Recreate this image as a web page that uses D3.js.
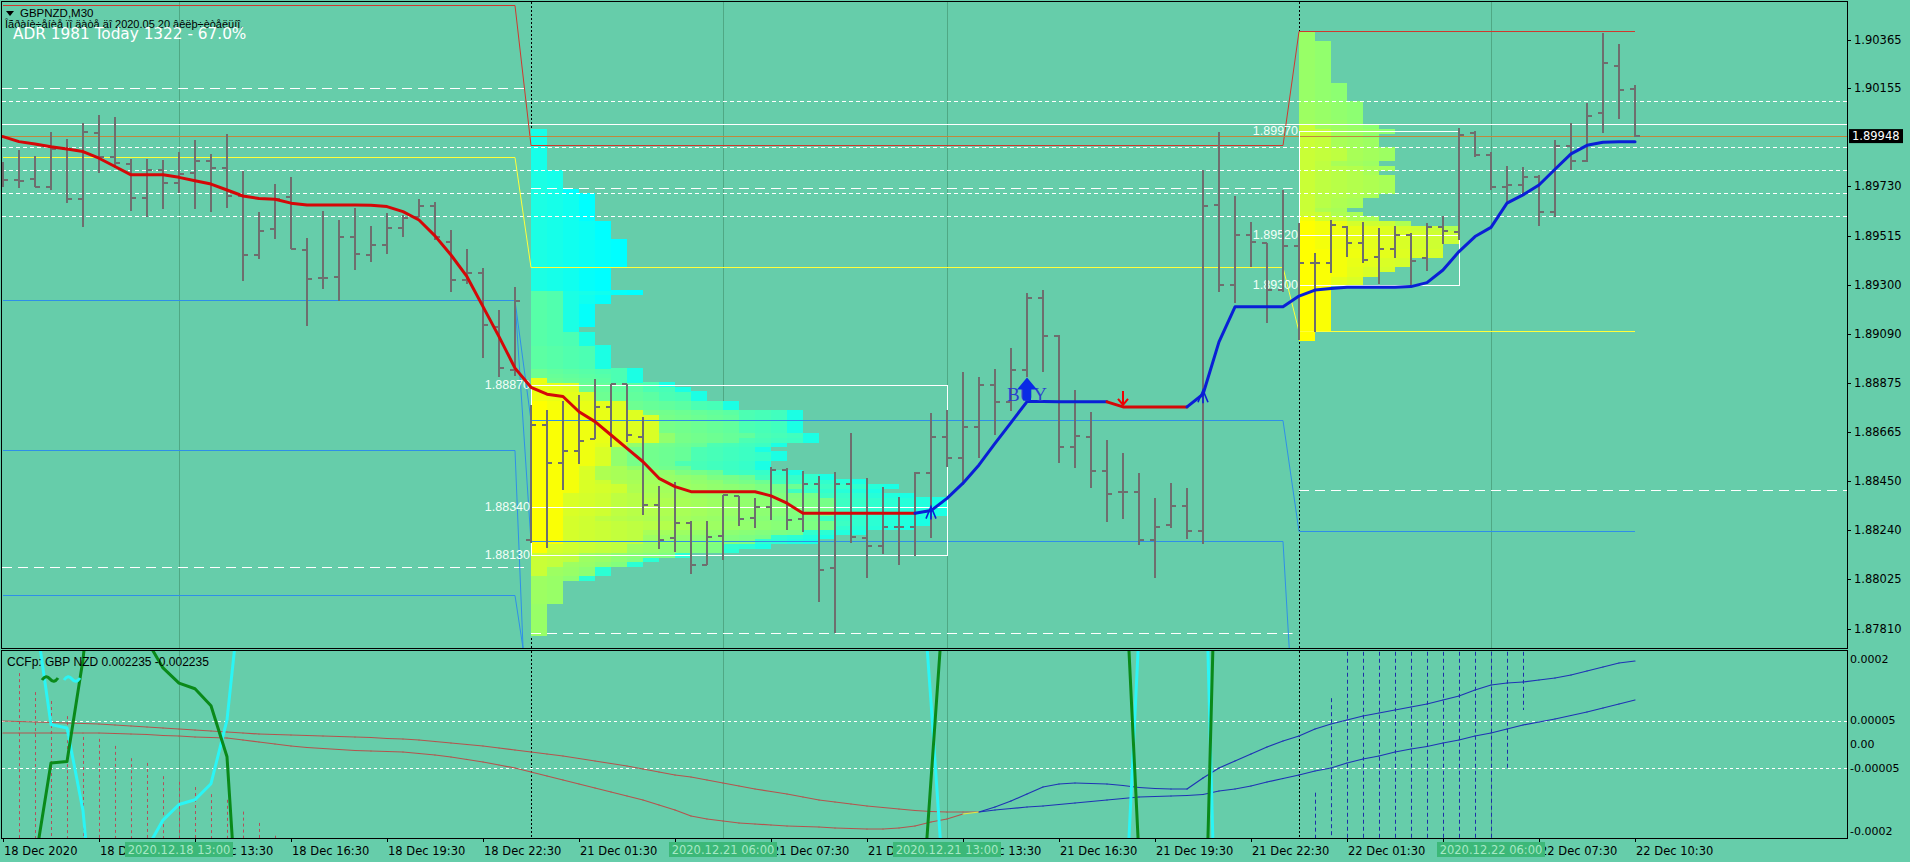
<!DOCTYPE html>
<html><head><meta charset="utf-8"><title>GBPNZD,M30</title>
<script src="https://cdn.jsdelivr.net/npm/d3@7/dist/d3.min.js"></script>
<style>html,body{margin:0;padding:0;background:#66cdaa;overflow:hidden}svg{display:block}</style>
</head><body>
<svg id="chart" width="1910" height="862"></svg>
<script>
// ---------------- DATA ----------------
const symbolTitle = "GBPNZD,M30";
const noteText = "Îãðàíè÷åíèå ïî äàòå äî 2020.05.20 âêëþ÷èòåëüíî.";
const adrText = "ADR 1981  Today 1322 - 67.0%";
const ccfText = "CCFp:  GBP NZD 0.002235 -0.002235";

// M30 bars, bar 0 = 18 Dec 07:30 ... bar 102 = 22 Dec 10:30
const open = [1.89787,1.89758,1.89764,1.89726,1.89891,1.89674,1.89960,1.89856,1.89827,1.89678,
1.89801,1.89746,1.89790,1.89840,1.89810,1.89688,1.89430,1.89545,1.89683,1.89454,
1.89331,1.89338,1.89508,1.89432,1.89476,1.89548,1.89599,1.89645,1.89490,1.89324,
1.89353,1.89121,1.88933,1.88196,1.88695,1.88528,1.88583,1.88632,1.88774,1.88873,
1.88641,1.88348,1.88203,1.88268,1.88087,1.88213,1.88387,1.88290,1.88340,1.88499,
1.88285,1.88439,1.88073,1.88439,1.88203,1.88170,1.88251,1.88251,1.88488,1.88644,
1.88553,1.88687,1.88868,1.88792,1.88933,1.89244,1.89080,1.88600,1.88643,1.88496,
1.88405,1.88405,1.88195,1.88260,1.88342,1.88235,1.89649,1.89301,1.89518,1.89482,
1.89280,1.89469,1.89396,1.89396,1.89555,1.89486,1.89422,1.89457,1.89519,1.89418,
1.89555,1.89534,1.89963,1.89866,1.89729,1.89736,1.89772,1.89618,1.89906,1.89842,
1.90050,1.90254,1.90151];
const high = [1.89837,1.89888,1.89862,1.89965,1.89934,1.90004,1.90040,1.90030,1.89848,1.89848,
1.89845,1.89879,1.89931,1.89871,1.89958,1.89797,1.89618,1.89739,1.89769,1.89505,
1.89622,1.89584,1.89635,1.89558,1.89616,1.89606,1.89674,1.89661,1.89541,1.89457,
1.89375,1.89194,1.89292,1.88781,1.88760,1.88799,1.88825,1.88893,1.88873,1.88873,
1.88728,1.88430,1.88449,1.88278,1.88276,1.88391,1.88387,1.88376,1.88511,1.88507,
1.88496,1.88473,1.88492,1.88658,1.88463,1.88427,1.88384,1.88492,1.88745,1.88760,
1.88926,1.88902,1.88936,1.89027,1.89269,1.89278,1.89084,1.88846,1.88749,1.88629,
1.88571,1.88484,1.88376,1.88444,1.88419,1.89800,1.89967,1.89688,1.89576,1.89482,
1.89715,1.89570,1.89440,1.89584,1.89558,1.89577,1.89551,1.89560,1.89526,1.89573,
1.89602,1.89982,1.89968,1.89881,1.89819,1.89816,1.89780,1.89932,1.90004,1.90091,
1.90394,1.90348,1.90170];
const low = [1.89726,1.89722,1.89726,1.89714,1.89657,1.89555,1.89790,1.89809,1.89625,1.89599,
1.89631,1.89700,1.89631,1.89620,1.89638,1.89321,1.89414,1.89500,1.89458,1.89126,
1.89283,1.89231,1.89367,1.89403,1.89438,1.89508,1.89596,1.89498,1.89273,1.89307,
1.88984,1.88904,1.88907,1.88181,1.88159,1.88413,1.88525,1.88632,1.88601,1.88621,
1.88304,1.88155,1.88145,1.88048,1.88087,1.88109,1.88256,1.88246,1.88282,1.88239,
1.88232,1.87928,1.87793,1.88181,1.88029,1.88135,1.88087,1.88126,1.88203,1.88514,
1.88434,1.88550,1.88651,1.88757,1.88904,1.88926,1.88530,1.88506,1.88423,1.88274,
1.88285,1.88173,1.88029,1.88246,1.88198,1.88180,1.89273,1.89225,1.89381,1.89138,
1.89273,1.89064,1.89100,1.89353,1.89422,1.89396,1.89307,1.89421,1.89302,1.89364,
1.89479,1.89495,1.89859,1.89712,1.89657,1.89693,1.89558,1.89599,1.89801,1.89837,
1.89963,1.90021,1.89943];
const close = [1.89758,1.89755,1.89729,1.89891,1.89674,1.89966,1.89856,1.89830,1.89678,1.89801,
1.89746,1.89784,1.89840,1.89809,1.89688,1.89430,1.89537,1.89675,1.89458,1.89328,
1.89331,1.89508,1.89437,1.89476,1.89551,1.89594,1.89645,1.89512,1.89324,1.89353,
1.89129,1.88941,1.89234,1.88695,1.88528,1.88583,1.88627,1.88774,1.88873,1.88651,
1.88348,1.88196,1.88268,1.88087,1.88207,1.88391,1.88285,1.88340,1.88499,1.88282,
1.88439,1.88065,1.88439,1.88210,1.88170,1.88251,1.88251,1.88488,1.88644,1.88553,
1.88687,1.88868,1.88792,1.88933,1.89244,1.89081,1.88600,1.88646,1.88496,1.88394,
1.88405,1.88195,1.88253,1.88342,1.88235,1.89644,1.89301,1.89518,1.89489,1.89280,
1.89469,1.89396,1.89396,1.89563,1.89486,1.89411,1.89457,1.89519,1.89404,1.89555,
1.89538,1.89953,1.89866,1.89729,1.89736,1.89772,1.89618,1.89903,1.89842,1.90036,
1.90264,1.90146,1.89948];

// trend moving average (red = down state, blue = up state)
const maLine = [1.89946,1.89924,1.89914,1.89902,1.89892,1.89881,1.89852,1.89816,1.89780,1.89780,
1.89780,1.89769,1.89754,1.89740,1.89714,1.89688,1.89677,1.89674,1.89657,1.89649,
1.89649,1.89649,1.89649,1.89648,1.89642,1.89620,1.89584,1.89515,1.89432,1.89338,
1.89208,1.89078,1.88941,1.88858,1.88828,1.88818,1.88752,1.88709,1.88651,1.88593,
1.88535,1.88463,1.88427,1.88405,1.88405,1.88405,1.88405,1.88405,1.88387,1.88355,
1.88311,1.88311,1.88311,1.88311,1.88311,1.88311,1.88311,1.88311,1.88323,1.88376,
1.88442,1.88521,1.88615,1.88705,1.88796,1.88796,1.88795,1.88795,1.88795,1.88795,
1.88773,1.88773,1.88773,1.88773,1.88773,1.88828,1.89055,1.89207,1.89207,1.89207,
1.89207,1.89254,1.89280,1.89287,1.89292,1.89292,1.89292,1.89292,1.89295,1.89312,
1.89367,1.89447,1.89512,1.89552,1.89657,1.89693,1.89736,1.89804,1.89871,1.89908,
1.89921,1.89924,1.89924];
const buySignals = [58, 75];
const sellSignals = [70];
const buyLabelBar = 64;

const tickBars = [0,6,12,18,24,30,36,42,48,54,60,66,72,78,84,90,96,102];
const tickLabels = ["18 Dec 2020","18 Dec 10:30","18 Dec 13:30","18 Dec 16:30","18 Dec 19:30","18 Dec 22:30",
"21 Dec 01:30","21 Dec 04:30","21 Dec 07:30","21 Dec 10:30","21 Dec 13:30","21 Dec 16:30","21 Dec 19:30","21 Dec 22:30",
"22 Dec 01:30","22 Dec 04:30","22 Dec 07:30","22 Dec 10:30"];
const sessionBars = [11,45,59,93];
const sessionLabels = ["2020.12.18 13:00","2020.12.21 06:00","2020.12.21 13:00","2020.12.22 06:00"];
const dayStarts = [0,33,81];
const dayEnds = [32,80,102];
const barsPerDay = 48;

const priceTicks = [1.90365,1.90155,1.89730,1.89515,1.89300,1.89090,1.88875,1.88665,1.88450,1.88240,1.88025,1.87810];
const lastPrice = 1.89948;
const roundLevelsMinor = [1.90100,1.89900,1.89800,1.89700,1.89600];
const roundLevelMajor = 1.90000;

// daily levels (one value per day: 18 Dec, 21 Dec, 22 Dec)
const levelRed = [1.90517,1.89909,1.90405];
const levelYellow = [1.89859,1.89381,1.89102];
const levelBlue1 = [1.89237,1.88716,1.88236];
const levelBlue2 = [1.89237,1.88191,1.87000];
const levelBlue3 = [1.88584,1.86880,1.86880];
const levelBlue4 = [1.87957,1.87500,1.87500];
const adrHigh = [1.90157,1.89721,null];
const adrLow = [1.88079,1.87793,1.88413];

// market profile (days with a profile) and value areas
const profileDays = [1,2];
const profileStep = 0.0002;
const vaHigh = [1.88870,1.89970];
const vaPoc = [1.88340,1.89520];
const vaLow = [1.88130,1.89300];

// lower window: CCFp
const lowerTicks = [0.0002,0.00005,0,-0.00005,-0.0002];
const lowerTickLabels = ["0.0002","0.00005","0.00","-0.00005","-0.0002"];
const lowerLevels = [0.00005,-0.00005];
const gbp = [-6e-4,-5e-4,-2.5e-4,-3.9e-5,-3.6e-5,1.8e-4,5e-4,6e-4,5e-4,2.2e-4,
1.62e-4,1.3e-4,1.18e-4,8.2e-5,-2.6e-5,-5.5e-4,-6e-4,-6e-4,-6e-4,-6e-4,
-6e-4,-6e-4,-6e-4,-6e-4,-6e-4,-6e-4,-6e-4,-6e-4,-6e-4,-6e-4,
-6e-4,-6e-4,-6e-4,-6e-4,-6e-4,-6e-4,-6e-4,-6e-4,-6e-4,-6e-4,
-6e-4,-6e-4,-6e-4,-6e-4,-6e-4,-6e-4,-6e-4,-6e-4,-6e-4,-6e-4,
-6e-4,-6e-4,-6e-4,-6e-4,-6e-4,-6e-4,-6e-4,-5.6e-4,-7.5e-5,4.1e-4,
6e-4,6e-4,6e-4,6e-4,6e-4,6e-4,6e-4,6e-4,6e-4,6e-4,
4.6e-4,-2.4e-4,-6e-4,-6e-4,-6e-4,-6e-4,7e-4,7e-4,7e-4,7e-4,
7e-4,7e-4,7e-4,7e-4,7e-4,7e-4,7e-4,7e-4,7e-4,7e-4,
7e-4,7e-4,7e-4,7e-4,7e-4,7e-4,7e-4,7e-4,7e-4,7e-4,
7e-4,7e-4,7e-4];
const nzd = [6e-4,5e-4,2.8e-4,4.2e-5,3.5e-5,-1.4e-4,-5e-4,-6e-4,-5e-4,-2.2e-4,
-1.6e-4,-1.27e-4,-1.17e-4,-8.3e-5,5.2e-5,3.7e-4,6e-4,6e-4,6e-4,6e-4,
6e-4,6e-4,6e-4,6e-4,6e-4,6e-4,6e-4,6e-4,6e-4,6e-4,
6e-4,6e-4,6e-4,6e-4,6e-4,6e-4,6e-4,6e-4,6e-4,6e-4,
6e-4,6e-4,6e-4,6e-4,6e-4,6e-4,6e-4,6e-4,6e-4,6e-4,
6e-4,6e-4,6e-4,6e-4,6e-4,6e-4,6e-4,5.6e-4,9e-5,-4.1e-4,
-6e-4,-6e-4,-6e-4,-6e-4,-6e-4,-6e-4,-6e-4,-6e-4,-6e-4,-6e-4,
-4.6e-4,2.4e-4,6e-4,6e-4,6e-4,6e-4,-7e-4,-7e-4,-7e-4,-7e-4,
-7e-4,-7e-4,-7e-4,-7e-4,-7e-4,-7e-4,-7e-4,-7e-4,-7e-4,-7e-4,
-7e-4,-7e-4,-7e-4,-7e-4,-7e-4,-7e-4,-7e-4,-7e-4,-7e-4,-7e-4,
-7e-4,-7e-4,-7e-4];
const ccfUnit = 1e-5;
const ccfFast = [4.97,4.87,4.76,4.66,4.55,4.44,4.34,4.13,3.92,3.70,
3.49,3.28,3.07,2.86,2.65,2.43,2.22,2.12,2.01,1.90,
1.80,1.69,1.59,1.48,1.27,1.16,0.95,0.63,0.32,0,
-0.32,-0.74,-1.16,-1.59,-2.01,-2.43,-2.96,-3.49,-4.02,-4.55,
-5.19,-5.82,-6.46,-6.88,-7.51,-8.15,-8.78,-9.42,-9.95,-10.48,
-11.11,-11.75,-12.17,-12.59,-13.02,-13.33,-13.65,-13.97,-14.18,-14.29,
-14.29,-14.29,-13.23,-11.96,-10.48,-8.99,-8.36,-8.15,-8.25,-8.36,
-8.68,-9.10,-9.31,-9.42,-9.42,-7.09,-4.97,-3.49,-2.01,-0.53,
0.74,1.80,3.28,4.34,5.19,6.03,6.67,7.30,7.94,8.57,
9.42,10.26,11.53,12.59,13.02,13.23,13.65,14.07,14.71,15.56,
16.40,17.25,17.67];
const ccfSlow = [2.43,2.43,2.43,2.43,2.43,2.43,2.43,2.33,2.22,2.12,
1.90,1.80,1.59,1.48,1.38,0.95,0.53,0.11,-0.32,-0.63,
-0.85,-1.06,-1.27,-1.38,-1.48,-1.59,-1.90,-2.22,-2.65,-3.17,
-3.70,-4.34,-4.97,-5.82,-6.67,-7.51,-8.36,-9.21,-10.05,-10.90,
-11.75,-12.80,-13.86,-15.13,-15.77,-16.19,-16.61,-16.83,-17.04,-17.25,
-17.35,-17.46,-17.67,-17.78,-17.88,-17.88,-17.67,-17.25,-16.40,-15.77,
-14.71,-14.29,-13.86,-13.55,-13.23,-13.02,-12.70,-12.38,-12.06,-11.75,
-11.43,-11.11,-11.01,-10.90,-10.79,-10.58,-9.84,-9.42,-8.78,-7.94,
-7.20,-6.46,-5.61,-4.97,-3.92,-3.07,-2.43,-1.59,-0.95,-0.42,
0.32,0.95,1.80,2.43,3.28,4.13,4.76,5.40,6.14,6.88,
7.72,8.57,9.42];
const ccfColorSwitch = 61;
const histRedTop = [null,15.1,11.1,9.2,6.0,1.6,1.2,-0.3,-2.9,-3.9,-6.7,-7.9,-9.0,-10.5,-11.7,-14.2,-16.6,-19.3];
const histRedBottom = -30;
const histBlueBars = [82,83,84,85,86,87,88,89,90,91,92,93,94,95];
const histBlueTop = [-10.2,9.8,30,30,30,30,30,30,30,30,30,30,30,30];
const histBlueBottom = [-30,-30,-30,-30,-30,-30,-30,-30,-30,-30,-30,-30,-5.4,7.3];

// ---------------- DRAWING ----------------
const svg = d3.select("#chart");
svg.append("rect").attr("width",1910).attr("height",862).attr("fill","#66cdaa");
const L=2, R=1847, MT=2, MB=648, LT=651, LB=838;
const x = d3.scaleLinear().domain([0,102]).range([3,1635]);
const cw = x(1)-x(0);
const y = d3.scaleLinear().domain([1.87810,1.90365]).range([628.8,40]);
const yl = d3.scaleLinear().domain([-0.0002,0.0002]).range([839,650]);
const bars = d3.range(open.length);
const AX = "DejaVu Sans", TX = "Liberation Sans";

const defs = svg.append("defs");
defs.append("clipPath").attr("id","clipMain").append("rect").attr("x",L).attr("y",MT).attr("width",R-L).attr("height",MB-MT);
defs.append("clipPath").attr("id","clipLow").append("rect").attr("x",L).attr("y",LT).attr("width",R-L).attr("height",LB-LT);
const gM = svg.append("g").attr("clip-path","url(#clipMain)");
const gL = svg.append("g").attr("clip-path","url(#clipLow)");

// session lines and day separators (both windows)
[[gM,MT,MB],[gL,LT,LB]].forEach(([g,t,b])=>{
  g.selectAll(null).data(sessionBars).join("line")
    .attr("x1",d=>x(d)+0.5).attr("x2",d=>x(d)+0.5).attr("y1",t).attr("y2",b)
    .attr("stroke","#4fa884").attr("stroke-width",1);
  g.selectAll(null).data(dayStarts.slice(1)).join("line")
    .attr("x1",d=>x(d)+0.5).attr("x2",d=>x(d)+0.5).attr("y1",t).attr("y2",b)
    .attr("stroke","#000").attr("stroke-width",1).attr("stroke-dasharray","2,2");
});

// market profile
const ramp = d3.interpolateRgb("#ffff00","#00ffff");
const profMax = {};
const gProf = gM.append("g").attr("shape-rendering","crispEdges");
profileDays.forEach(d=>{
  const s = dayStarts[d], e = dayEnds[d];
  const db = d3.range(s,e+1);
  const lo = d3.min(db,i=>low[i]), hi = d3.max(db,i=>high[i]);
  const k0 = Math.floor(lo/profileStep+1e-9), k1 = Math.ceil(hi/profileStep-1e-9);
  let mx = 0;
  for(let k=k0;k<k1;k++){
    const p0 = k*profileStep, p1 = (k+1)*profileStep;
    const touch = db.filter(i=>low[i]<p1 && high[i]>=p0);
    mx = Math.max(mx,touch.length);
    touch.forEach((i,j)=>{
      gProf.append("rect").attr("x",x(s)+j*cw).attr("y",y(p1))
        .attr("width",cw).attr("height",y(p0)-y(p1)+0.5)
        .attr("fill",ramp((i-s)/(barsPerDay-1)));
    });
  }
  profMax[d] = mx;
});

// round-number levels
gM.selectAll(null).data(roundLevelsMinor).join("line")
  .attr("x1",L).attr("x2",R).attr("y1",d=>Math.round(y(d))+0.5).attr("y2",d=>Math.round(y(d))+0.5)
  .attr("stroke","#fff").attr("stroke-dasharray","4,3");
gM.append("line").attr("x1",L).attr("x2",R).attr("y1",Math.round(y(roundLevelMajor))+0.5).attr("y2",Math.round(y(roundLevelMajor))+0.5).attr("stroke","#fff");

// ADR long-dash lines
[adrHigh,adrLow].forEach(arr=>{
  arr.forEach((v,d)=>{
    if(v==null) return;
    const xs = d===0 ? L : x(dayStarts[d]);
    const xe = d===dayStarts.length-1 ? R : x(dayEnds[d]+0.6);
    gM.append("line").attr("x1",xs).attr("x2",xe).attr("y1",Math.round(y(v))+0.5).attr("y2",Math.round(y(v))+0.5)
      .attr("stroke","#fff").attr("stroke-dasharray","10,6");
  });
});

// daily level lines
const dayOf = i => dayStarts.filter(s=>s<=i).length-1;
function levelPath(vals,color){
  gM.append("path").datum(bars)
    .attr("d",d3.line().x(i=>x(i)).y(i=>Math.round(y(vals[dayOf(i)]))+0.5))
    .attr("fill","none").attr("stroke",color).attr("stroke-width",1);
}
levelPath(levelBlue1,"#2f8fe8");
levelPath(levelBlue2,"#2f8fe8");
levelPath(levelBlue3,"#2f8fe8");
levelPath(levelBlue4,"#2f8fe8");
levelPath(levelYellow,"#ffff3a");
levelPath(levelRed,"#d0382e");

// current price line
gM.append("line").attr("x1",L).attr("x2",R).attr("y1",Math.round(y(lastPrice))+0.5).attr("y2",Math.round(y(lastPrice))+0.5)
  .attr("stroke","#c0883c").attr("stroke-width",1);

// value area boxes
profileDays.forEach((d,k)=>{
  const x0 = x(dayStarts[d]), x1 = x0 + profMax[d]*cw;
  const yt = Math.round(y(vaHigh[k]))+0.5, yb = Math.round(y(vaLow[k]))+0.5, yp = Math.round(y(vaPoc[k]))+0.5;
  gM.append("rect").attr("x",x0+0.5).attr("y",yt).attr("width",x1-x0).attr("height",yb-yt)
    .attr("fill","none").attr("stroke","#fff").attr("stroke-width",1);
  gM.append("line").attr("x1",x0).attr("x2",x1).attr("y1",yp).attr("y2",yp).attr("stroke","#fff");
  [vaHigh[k],vaPoc[k],vaLow[k]].forEach(v=>{
    gM.append("text").attr("x",x0-1).attr("y",y(v)).attr("text-anchor","end").attr("dominant-baseline","central")
      .attr("font-family",TX).attr("font-size","12.5px").attr("fill","#f4fff8").text(v.toFixed(5));
  });
});

// OHLC bars
const gB = gM.append("g").attr("stroke","#6e6e6e").attr("stroke-width",2).attr("shape-rendering","crispEdges");
bars.forEach(i=>{
  const xi = x(i);
  gB.append("line").attr("x1",xi).attr("x2",xi).attr("y1",y(high[i])).attr("y2",y(low[i]));
  gB.append("line").attr("x1",xi-5).attr("x2",xi).attr("y1",y(open[i])).attr("y2",y(open[i]));
  gB.append("line").attr("x1",xi).attr("x2",xi+5).attr("y1",y(close[i])).attr("y2",y(close[i]));
});

// MA with trend state colours
const stateAt = i => { let s="dn"; for(let j=0;j<=i;j++){ if(buySignals.includes(j)) s="up"; if(sellSignals.includes(j)) s="dn"; } return s; };
let runs=[], cur=null;
for(let i=1;i<bars.length;i++){
  const st = stateAt(i);
  if(!cur || cur.st!==st){ cur={st,pts:[i-1]}; runs.push(cur); }
  cur.pts.push(i);
}
const maGen = d3.line().x(i=>x(i)).y(i=>y(maLine[i]));
runs.forEach(r=>{
  gM.append("path").attr("d",maGen(r.pts)).attr("fill","none")
    .attr("stroke",r.st==="up"?"#0a1fd6":"#d40808").attr("stroke-width",3)
    .attr("stroke-linejoin","round").attr("stroke-linecap","round");
});
// signal marks
buySignals.forEach(b=>{
  const bx=x(b), by=y(maLine[b]);
  gM.append("path").attr("d",`M${bx-5},${by+8}L${bx},${by-4}L${bx+5},${by+8}M${bx},${by-4}L${bx},${by+9}`)
    .attr("fill","none").attr("stroke","#0a1fd6").attr("stroke-width",1.6);
});
sellSignals.forEach(b=>{
  const sx=x(b), sy=y(maLine[b]);
  gM.append("path").attr("d",`M${sx},${sy-16}L${sx},${sy-2}M${sx-5},${sy-8}L${sx},${sy-2}L${sx+5},${sy-8}`)
    .attr("fill","none").attr("stroke","#f00000").attr("stroke-width",2);
});
{
  const bx=x(buyLabelBar), by=y(maLine[buyLabelBar]);
  gM.append("text").attr("x",bx).attr("y",by-1).attr("text-anchor","middle")
    .attr("font-family","Liberation Serif").attr("font-size","19px").attr("fill","#2a3fd0").text("BUY");
  gM.append("path").attr("d",`M${bx},${by-24}L${bx+10},${by-12}L${bx+4},${by-12}L${bx+4},${by-1}L${bx-4},${by-1}L${bx-4},${by-12}L${bx-10},${by-12}Z`)
    .attr("fill","#0a2ae6");
}

// top-left texts
svg.append("path").attr("d","M6,11L14,11L10,16Z").attr("fill","#000");
svg.append("text").attr("x",20).attr("y",17).attr("font-family",TX).attr("font-size","11.5px").attr("fill","#000").text(symbolTitle);
svg.append("text").attr("x",5).attr("y",28).attr("font-family",TX).attr("font-size","11px").attr("fill","#000").text(noteText);
svg.append("text").attr("x",13).attr("y",39).attr("font-family",AX).attr("font-size","15.3px").attr("fill","#ffffff").text(adrText);

// ---------- lower window ----------
gL.selectAll(null).data(lowerLevels).join("line")
  .attr("x1",L).attr("x2",R).attr("y1",d=>Math.round(yl(d))+0.5).attr("y2",d=>Math.round(yl(d))+0.5)
  .attr("stroke","#fff").attr("stroke-dasharray","3,3");
histRedTop.forEach((v,i)=>{
  if(v==null) return;
  gL.append("line").attr("x1",x(i)+0.5).attr("x2",x(i)+0.5).attr("y1",yl(v*ccfUnit)).attr("y2",yl(histRedBottom*ccfUnit))
    .attr("stroke","#b2505c").attr("stroke-dasharray","3,3");
});
histBlueBars.forEach((b,k)=>{
  gL.append("line").attr("x1",x(b)+0.5).attr("x2",x(b)+0.5).attr("y1",yl(histBlueTop[k]*ccfUnit)).attr("y2",yl(histBlueBottom[k]*ccfUnit))
    .attr("stroke","#1e2fa8").attr("stroke-dasharray","4,3");
});
function ccfLine(vals, yellowSeg){
  for(let i=1;i<vals.length;i++){
    let c = i<ccfColorSwitch ? "#b4544e" : (i===ccfColorSwitch ? (yellowSeg?"#e6e640":"#b4544e") : "#1f33b5");
    gL.append("line").attr("x1",x(i-1)).attr("x2",x(i)).attr("y1",yl(vals[i-1]*ccfUnit)).attr("y2",yl(vals[i]*ccfUnit))
      .attr("stroke",c).attr("stroke-width",1.2).attr("stroke-linecap","round");
  }
}
ccfLine(ccfFast,false);
ccfLine(ccfSlow,true);
const lg = d3.line().x((d,i)=>x(i)).y(d=>yl(d));
gL.append("path").attr("d",lg(nzd)).attr("fill","none").attr("stroke","#2af5f5").attr("stroke-width",3).attr("stroke-linejoin","round");
gL.append("path").attr("d",lg(gbp)).attr("fill","none").attr("stroke","#0a8a1a").attr("stroke-width",3).attr("stroke-linejoin","round");
svg.append("text").attr("x",7).attr("y",666).attr("font-family",TX).attr("font-size","12px").attr("fill","#000").text(ccfText);
svg.append("path").attr("d","M42,680q4,-6 8,-1t8,-1").attr("fill","none").attr("stroke","#0a8a1a").attr("stroke-width",3);
svg.append("path").attr("d","M64,680q4,-6 8,-1t8,-1").attr("fill","none").attr("stroke","#2af5f5").attr("stroke-width",3);

// ---------- frames & axes ----------
svg.append("rect").attr("x",L-0.5).attr("y",MT-0.5).attr("width",R-L+1).attr("height",MB-MT+1).attr("fill","none").attr("stroke","#000");
svg.append("rect").attr("x",L-0.5).attr("y",LT-0.5).attr("width",R-L+1).attr("height",LB-LT+1).attr("fill","none").attr("stroke","#000");

// price axis
priceTicks.forEach(p=>{
  const yy=Math.round(y(p))+0.5;
  svg.append("line").attr("x1",R).attr("x2",R+4).attr("y1",yy).attr("y2",yy).attr("stroke","#000");
  svg.append("text").attr("x",R+7).attr("y",y(p)).attr("dominant-baseline","central")
    .attr("font-family",AX).attr("font-size","11.5px").attr("fill","#000").text(p.toFixed(5));
});
svg.append("rect").attr("x",R+2).attr("y",y(lastPrice)-7).attr("width",54).attr("height",14).attr("fill","#000");
svg.append("text").attr("x",R+5).attr("y",y(lastPrice)).attr("dominant-baseline","central")
  .attr("font-family",AX).attr("font-size","11.5px").attr("fill","#fff").text(lastPrice.toFixed(5));

// lower axis
lowerTicks.forEach((v,k)=>{
  const yy=Math.max(659,Math.min(831,yl(v)));
  svg.append("text").attr("x",R+3).attr("y",yy).attr("dominant-baseline","central")
    .attr("font-family",AX).attr("font-size","11px").attr("fill","#000").text(lowerTickLabels[k]);
});

// time axis
tickBars.forEach((b,k)=>{
  svg.append("line").attr("x1",x(b)+0.5).attr("x2",x(b)+0.5).attr("y1",LB).attr("y2",LB+4).attr("stroke","#000");
  svg.append("text").attr("x",x(b)+1).attr("y",855).attr("font-family",AX).attr("font-size","11.5px").attr("fill","#000").text(tickLabels[k]);
});
sessionBars.forEach((b,k)=>{
  svg.append("rect").attr("x",x(b)-54).attr("y",842).attr("width",108).attr("height",15).attr("fill","#3cb878");
  svg.append("text").attr("x",x(b)).attr("y",854).attr("text-anchor","middle").attr("font-family",AX)
    .attr("font-size","11.5px").attr("fill","#a6e8c6").text(sessionLabels[k]);
});
</script>
</body></html>
